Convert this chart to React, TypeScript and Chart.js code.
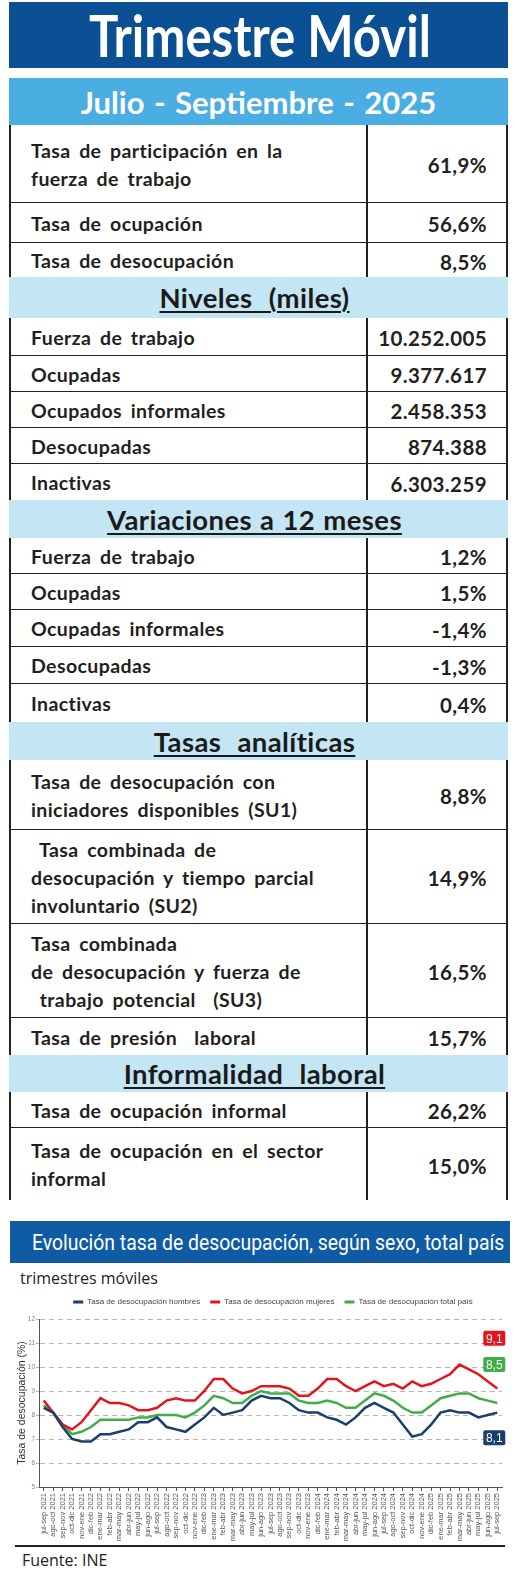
import React, { useEffect, useLayoutEffect, useRef, useState } from "react";
import { Chart, registerables } from "chart.js";
Chart.register(...registerables);

// ---------- chart data ----------
const periods = [
  "jul-sep 2021", "ago-oct 2021", "sep-nov 2021", "oct-dic 2021", "nov-ene 2021",
  "dic-feb 2022", "ene-mar 2022", "feb-abr 2022", "mar-may 2022", "abr-jun 2022",
  "may-jul 2022", "jun-ago 2022", "jul-sep 2022", "ago-oct 2022", "sep-nov 2022",
  "oct-dic 2022", "nov-ene 2022", "dic-feb 2023", "ene-mar 2023", "feb-abr 2023",
  "mar-may 2023", "abr-jun 2023", "may-jul 2023", "jun-ago 2023", "jul-sep 2023",
  "ago-oct 2023", "sep-nov 2023", "oct-dic 2023", "nov-ene 2023", "dic-feb 2024",
  "ene-mar 2024", "feb-abr 2024", "mar-may 2024", "abr-jun 2024", "may-jul 2024",
  "jun-ago 2024", "jul-sep 2024", "ago-oct 2024", "sep-nov 2024", "oct-dic 2024",
  "nov-ene 2024", "dic-feb 2025", "ene-mar 2025", "feb-abr 2025", "mar-may 2025",
  "abr-jun 2025", "may-jul 2025", "jun-ago 2025", "jul-sep 2025",
];

const hombres = [
  8.3, 8.1, 7.5, 7.0, 6.9, 6.9, 7.2, 7.2, 7.3, 7.4,
  7.7, 7.7, 7.9, 7.5, 7.4, 7.3, 7.6, 7.9, 8.3, 8.0,
  8.1, 8.2, 8.6, 8.8, 8.7, 8.7, 8.5, 8.2, 8.1, 8.1,
  7.9, 7.8, 7.6, 7.9, 8.3, 8.5, 8.3, 8.1, 7.6, 7.1,
  7.2, 7.6, 8.1, 8.2, 8.1, 8.1, 7.9, 8.0, 8.1,
];

const mujeres = [
  8.6, 8.1, 7.6, 7.4, 7.7, 8.2, 8.7, 8.5, 8.5, 8.4,
  8.2, 8.2, 8.3, 8.6, 8.7, 8.6, 8.6, 9.0, 9.5, 9.5,
  9.1, 8.9, 9.0, 9.2, 9.2, 9.2, 9.1, 8.8, 8.8, 9.1,
  9.5, 9.5, 9.2, 9.0, 9.2, 9.4, 9.2, 9.3, 9.1, 9.4,
  9.2, 9.3, 9.5, 9.7, 10.1, 9.9, 9.7, 9.4, 9.1,
];

const totalPais = [
  8.4, 8.1, 7.6, 7.2, 7.3, 7.5, 7.8, 7.8, 7.8, 7.8,
  7.9, 7.9, 8.0, 8.0, 8.0, 7.9, 8.1, 8.4, 8.8, 8.7,
  8.5, 8.5, 8.8, 9.0, 8.9, 8.9, 8.9, 8.6, 8.5, 8.5,
  8.6, 8.5, 8.3, 8.3, 8.6, 8.9, 8.8, 8.6, 8.3, 8.1,
  8.1, 8.4, 8.7, 8.8, 8.9, 8.9, 8.7, 8.6, 8.5,
];

const seriesNames = [
  "Tasa de desocupación hombres",
  "Tasa de desocupación mujeres",
  "Tasa de desocupación total país",
];

const yMin = 5;
const yMax = 12;

// ---------- table data ----------
const topRows: [string[], string][] = [
  [["Tasa de participación en la", "fuerza de trabajo"], "61,9%"],
  [["Tasa de ocupación"], "56,6%"],
  [["Tasa de desocupación"], "8,5%"],
];
const nivelesRows: [string[], string][] = [
  [["Fuerza de trabajo"], "10.252.005"],
  [["Ocupadas"], "9.377.617"],
  [["Ocupados informales"], "2.458.353"],
  [["Desocupadas"], "874.388"],
  [["Inactivas"], "6.303.259"],
];
const variacionesRows: [string[], string][] = [
  [["Fuerza de trabajo"], "1,2%"],
  [["Ocupadas"], "1,5%"],
  [["Ocupadas informales"], "-1,4%"],
  [["Desocupadas"], "-1,3%"],
  [["Inactivas"], "0,4%"],
];
const tasasRows: [string[], string][] = [
  [["Tasa de desocupación con", "iniciadores disponibles (SU1)"], "8,8%"],
  [["\u00A0Tasa combinada de", "desocupación y tiempo parcial", "involuntario (SU2)"], "14,9%"],
  [["Tasa combinada", "de desocupación y fuerza de", "\u00A0trabajo potencial  (SU3)"], "16,5%"],
  [["Tasa de presión  laboral"], "15,7%"],
];
const informalidadRows: [string[], string][] = [
  [["Tasa de ocupación informal"], "26,2%"],
  [["Tasa de ocupación en el sector", "informal"], "15,0%"],
];

// ---------- styles ----------
const BLUE = "#183f6e";
const RED = "#e3141c";
const GREEN = "#42ad48";
const TXT = "#231f20";
const TABLE_FONT = "Lato, 'Open Sans', sans-serif";
const CHART_FONT = "'Liberation Sans', Arial, sans-serif";

const rowHeights = {
  top: [78, 40, 34],
  niveles: [38, 36, 36, 36, 36],
  variaciones: [36, 36, 37, 37, 38],
  tasas: [70, 94, 94, 37],
  informalidad: [36, 72],
};
const bandHeights = { niveles: 41, variaciones: 38, tasas: 38, informalidad: 37 };

function FitText({ text, width, origin, style }: { text: string; width: number; origin: string; style?: any }) {
  const ref = useRef<HTMLSpanElement | null>(null);
  const [s, setS] = useState(1);
  useLayoutEffect(() => {
    if (ref.current && ref.current.offsetWidth > 0) setS(width / ref.current.offsetWidth);
  }, [text, width]);
  return (
    <span
      ref={ref}
      style={{
        display: "inline-block",
        whiteSpace: "nowrap",
        transform: `scaleX(${s})`,
        transformOrigin: origin,
        ...style,
      }}
    >
      {text}
    </span>
  );
}

function Row({ h, label, value, last }: { h: number; label: string[]; value: string; last?: boolean }) {
  return (
    <div
      style={{
        display: "flex",
        height: h,
        boxSizing: "border-box",
        borderBottom: last ? "none" : "1.5px solid #222",
      }}
    >
      <div
        style={{
          width: 357,
          boxSizing: "border-box",
          borderRight: "2px solid #222",
          display: "flex",
          flexDirection: "column",
          justifyContent: "center",
          paddingLeft: 20,
          paddingTop: 2,
          fontSize: 19.5,
          lineHeight: "28px",
          whiteSpace: "pre",
        }}
      >
        {label.map((l, i) => (
          <div key={i}>{l}</div>
        ))}
      </div>
      <div
        style={{
          flex: 1,
          display: "flex",
          alignItems: "center",
          justifyContent: "flex-end",
          paddingRight: 19,
          paddingTop: 3,
          fontSize: 20.5,
        }}
      >
        {value}
      </div>
    </div>
  );
}

function Band({ h, text }: { h: number; text: string }) {
  return (
    <div
      style={{
        height: h,
        background: "#c4e5f4",
        margin: "0 -2px",
        display: "flex",
        alignItems: "center",
        justifyContent: "center",
        paddingRight: 8,
        fontSize: 27.5,
        wordSpacing: 1,
        textDecoration: "underline",
        textUnderlineOffset: 3,
        textDecorationThickness: 2,
        whiteSpace: "pre",
        color: "#1a1a1a",
      }}
    >
      {text}
    </div>
  );
}

function DesocupacionChart() {
  const ref = useRef<HTMLCanvasElement | null>(null);
  useEffect(() => {
    if (!ref.current) return;
    const endShift = [-1.05, 2.1, 1.6];
    const endLabels = {
      id: "endLabels",
      afterDatasetsDraw(chart: any) {
        const { ctx, scales } = chart;
        const x = scales.x;
        const y = scales.y;
        chart.data.datasets.forEach((ds: any, i: number) => {
          const last = ds.data.length - 1;
          const v = ds.data[last];
          const cx = x.getPixelForValue(last) - 3;
          const cy = y.getPixelForValue(v + endShift[i]);
          const w = 22;
          const h = 15;
          ctx.save();
          ctx.fillStyle = ds.borderColor;
          ctx.beginPath();
          (ctx as any).roundRect(cx - w / 2, cy - h / 2, w, h, 2);
          ctx.fill();
          ctx.fillStyle = "#ffffff";
          ctx.font = `12px ${CHART_FONT}`;
          ctx.textAlign = "center";
          ctx.textBaseline = "middle";
          ctx.fillText(v.toFixed(1).replace(".", ","), cx, cy + 1);
          ctx.restore();
        });
      },
    };
    const legendSpace = {
      id: "legendSpace",
      beforeInit(chart: any) {
        const lg = chart.legend;
        if (!lg) return;
        const orig = lg.fit;
        lg.fit = function () {
          orig.call(this);
          this.height = 31;
        };
      },
      afterLayout(chart: any) {
        if (chart.legend) chart.legend.left += 28;
      },
    };
    const chart = new Chart(ref.current, {
      type: "line",
      data: {
        labels: periods,
        datasets: [
          { label: seriesNames[0], data: hombres, borderColor: BLUE, backgroundColor: BLUE },
          { label: seriesNames[1], data: mujeres, borderColor: RED, backgroundColor: RED },
          { label: seriesNames[2], data: totalPais, borderColor: GREEN, backgroundColor: GREEN },
        ].map((d) => ({ ...d, borderWidth: 2.5, pointRadius: 0, tension: 0 })),
      },
      options: {
        animation: false,
        responsive: true,
        maintainAspectRatio: false,
        layout: { padding: { left: 16, right: 18, top: 0, bottom: 0 } },
        plugins: {
          legend: {
            position: "top",
            labels: {
              boxWidth: 10,
              boxHeight: 3,
              font: { size: 8, family: CHART_FONT },
              color: "#444",
              padding: 10,
              generateLabels: (c: any) =>
                Chart.defaults.plugins.legend.labels.generateLabels(c).map((l: any) => ({ ...l, lineWidth: 0 })),
            },
          },
          tooltip: { enabled: false },
        },
        scales: {
          x: {
            offset: true,
            grid: { drawOnChartArea: false, tickLength: 4, color: "#555" },
            border: { color: "#555", width: 1 },
            ticks: {
              autoSkip: false,
              maxRotation: 90,
              minRotation: 90,
              font: { size: 7.5, family: CHART_FONT },
              color: "#555",
              padding: 2,
            },
            afterFit: (s: any) => {
              s.height = 58;
            },
          },
          y: {
            min: yMin,
            max: yMax,
            grid: { color: "#b5b5b5", tickLength: 3, lineWidth: 1 },
            border: { color: "#555", width: 1, dash: [5, 4] },
            ticks: {
              stepSize: 1,
              font: { size: 6.5, family: CHART_FONT },
              color: "#888",
              padding: 1,
            },
            title: {
              display: true,
              text: "Tasa de desocupación (%)",
              font: { size: 10.5, family: CHART_FONT },
              color: "#333",
              padding: { top: 0, bottom: 2 },
            },
            afterFit: (s: any) => {
              s.width = 23;
            },
          },
        },
      },
      plugins: [endLabels, legendSpace],
    });
    return () => chart.destroy();
  }, []);
  return (
    <div style={{ position: "absolute", left: 0, top: 1288, width: 520, height: 257 }}>
      <canvas ref={ref} />
    </div>
  );
}

export default function App() {
  const sections: [string | null, [string[], string][], number[], number][] = [
    [null, topRows, rowHeights.top, 0],
    ["Niveles  (miles)", nivelesRows, rowHeights.niveles, bandHeights.niveles],
    ["Variaciones a 12 meses", variacionesRows, rowHeights.variaciones, bandHeights.variaciones],
    ["Tasas  analíticas", tasasRows, rowHeights.tasas, bandHeights.tasas],
    ["Informalidad  laboral", informalidadRows, rowHeights.informalidad, bandHeights.informalidad],
  ];
  return (
    <div
      style={{
        position: "absolute",
        left: 0,
        top: 0,
        width: 520,
        height: 1574,
        overflow: "hidden",
        background: "#fff",
        fontFamily: TABLE_FONT,
        color: TXT,
      }}
    >
      {/* title */}
      <div
        style={{
          position: "absolute",
          left: 9,
          top: 2,
          width: 499,
          height: 66,
          background: "#0b4f95",
          color: "#fff",
          display: "flex",
          alignItems: "center",
          justifyContent: "center",
          paddingLeft: 2,
          boxSizing: "border-box",
          fontWeight: 700,
          fontSize: 58,
          lineHeight: "66px",
        }}
      >
        <FitText text="Trimestre Móvil" width={342} origin="center center" />
      </div>
      <div
        style={{
          position: "absolute",
          left: 9,
          top: 78,
          width: 499,
          height: 47,
          background: "#4aaee3",
          color: "#fff",
          display: "flex",
          alignItems: "center",
          justifyContent: "center",
          fontWeight: 700,
          fontSize: 31,
          wordSpacing: 2,
        }}
      >
        Julio - Septiembre - 2025
      </div>
      {/* table */}
      <div
        style={{
          position: "absolute",
          left: 9,
          top: 125,
          width: 499,
          boxSizing: "border-box",
          borderLeft: "2px solid #222",
          borderRight: "2px solid #222",
          fontWeight: 700,
          letterSpacing: 0.4,
          wordSpacing: 3.5,
        }}
      >
        {sections.map(([title, rows, hs, bh], si) => (
          <React.Fragment key={si}>
            {title && <Band h={bh} text={title} />}
            {rows.map(([label, value], ri) => (
              <Row
                key={ri}
                h={hs[ri]}
                label={label}
                value={value}
                last={ri === rows.length - 1}
              />
            ))}
          </React.Fragment>
        ))}
      </div>
      {/* chart banner */}
      <div
        style={{
          position: "absolute",
          left: 10,
          top: 1221,
          width: 500,
          height: 42,
          background: "#0f5ca4",
          color: "#fff",
          display: "flex",
          alignItems: "center",
          paddingLeft: 22,
          boxSizing: "border-box",
          fontFamily: "Roboto, 'Open Sans', sans-serif",
          fontSize: 22,
          overflow: "hidden",
        }}
      >
        <FitText
          text="Evolución tasa de desocupación, según sexo, total país"
          width={472}
          origin="left center"
        />
      </div>
      <div
        style={{
          position: "absolute",
          left: 20,
          top: 1267,
          fontFamily: "'Open Sans', sans-serif",
          fontSize: 16,
          color: "#222",
        }}
      >
        trimestres móviles
      </div>
      <DesocupacionChart />
      <div
        style={{
          position: "absolute",
          left: 15,
          top: 1545,
          width: 490,
          height: 2,
          background: "#222",
        }}
      />
      <div
        style={{
          position: "absolute",
          left: 22,
          top: 1549,
          fontFamily: "'Open Sans', sans-serif",
          fontSize: 16,
          color: "#222",
        }}
      >
        Fuente: INE
      </div>
    </div>
  );
}
